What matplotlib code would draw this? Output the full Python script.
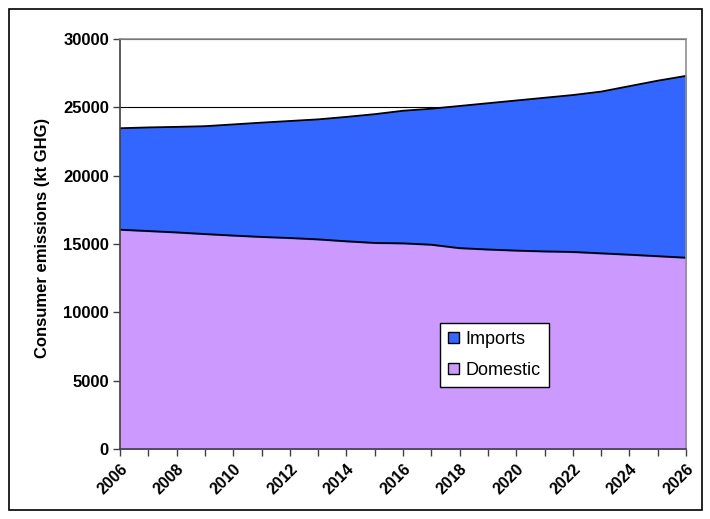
import matplotlib.pyplot as plt
from matplotlib.patches import Rectangle

plt.rcParams['font.family'] = ['Liberation Sans', 'DejaVu Sans']

years = list(range(2006, 2027))
domestic = [16050, 15950, 15850, 15730, 15620, 15520, 15440, 15340, 15200, 15080, 15050,
            14950, 14700, 14600, 14520, 14460, 14420, 14320, 14220, 14110, 14000]
imports = [7420, 7580, 7720, 7890, 8130, 8360, 8560, 8780, 9100, 9420, 9700,
           9950, 10400, 10700, 10980, 11240, 11480, 11830, 12330, 12840, 13300]
tick_years = list(range(2006, 2027, 2))

fig = plt.figure(figsize=(7.1, 5.19), dpi=100)
ax = fig.add_axes([120 / 710, 1 - 449 / 519, 566 / 710, 410 / 519])

# outer frame
fig.patches.append(Rectangle((9 / 710, 1 - 510 / 519), 693 / 710, 501 / 519,
                             transform=fig.transFigure, fill=False,
                             edgecolor='black', linewidth=1.2))

total = [d + i for d, i in zip(domestic, imports)]
ax.fill_between(years, 0, domestic, color='#CC99FF', label='Domestic', zorder=2)
ax.fill_between(years, domestic, total, color='#3366FF', label='Imports', zorder=2)
ax.plot(years, domestic, color='black', linewidth=1.3, zorder=3)
ax.plot(years, total, color='black', linewidth=1.3, zorder=3)

ax.set_xlim(2006, 2026)
ax.set_ylim(0, 30000)
ax.set_yticks(range(0, 30001, 5000))
ax.yaxis.grid(True, color='black', linewidth=0.8, zorder=1)
ax.set_axisbelow(True)

ax.set_xticks(years)
ax.set_xticklabels([str(y) if y in tick_years else '' for y in years],
                   rotation=45, ha='right', rotation_mode='anchor',
                   fontsize=11.5, fontweight='bold')
for lbl in ax.get_yticklabels():
    lbl.set_fontsize(12)
    lbl.set_fontweight('bold')
ax.tick_params(axis='both', direction='out', length=5, width=1, color='#404040')
ax.tick_params(axis='x', pad=4)
ax.tick_params(axis='y', pad=3)

ax.spines['top'].set_color('#909090')
ax.spines['right'].set_color('#909090')
ax.spines['left'].set_color('#404040')
ax.spines['bottom'].set_color('#404040')
for s in ax.spines.values():
    s.set_linewidth(1.2)
    s.set_zorder(4)

ax.set_ylabel('Consumer emissions (kt GHG)', fontsize=12, fontweight='bold')
ax.yaxis.set_label_coords(-0.124, 0.515)

handles, labels = ax.get_legend_handles_labels()
leg = ax.legend(handles[::-1], labels[::-1], loc='upper left',
                bbox_to_anchor=((440 - 120) / 566, (449 - 323) / 410),
                fontsize=13, frameon=True, fancybox=False, edgecolor='black',
                framealpha=1, handlelength=0.6, handleheight=0.6, handletextpad=0.35,
                borderpad=0.45, labelspacing=0.75, borderaxespad=0)
leg.get_frame().set_linewidth(1.0)
for h in leg.legend_handles:
    h.set_edgecolor('black')
    h.set_linewidth(1.0)

fig.savefig('out.png', dpi=100)
